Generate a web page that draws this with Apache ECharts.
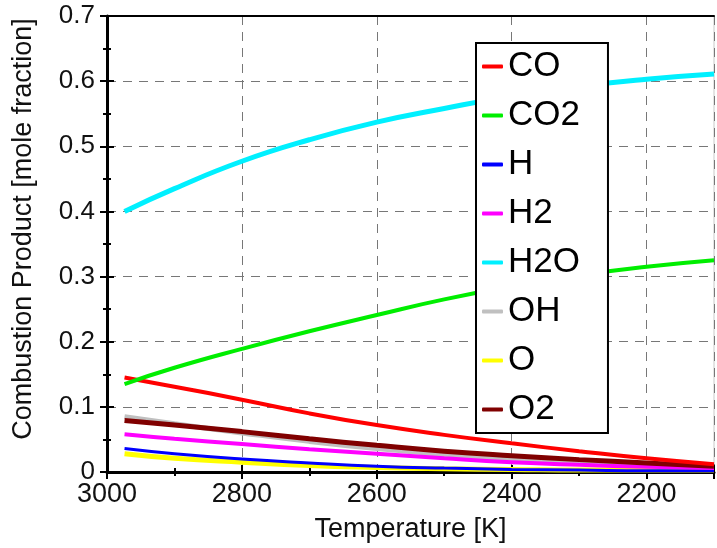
<!DOCTYPE html>
<html>
<head>
<meta charset="utf-8">
<script src="https://cdn.jsdelivr.net/npm/echarts@6/dist/echarts.min.js"></script>
<style>
  html, body { margin: 0; padding: 0; background: #fff; }
  #main { width: 717px; height: 548px; }
</style>
</head>
<body>
<div id="main"></div>
<script>
// temperatures (K), curves start just below 3000
var temps = [2974, 2900, 2800, 2700, 2600, 2500, 2400, 2300, 2200, 2100];

var CO  = [0.145, 0.131, 0.111, 0.090, 0.072, 0.057, 0.044, 0.032, 0.021, 0.012];
var CO2 = [0.135, 0.160, 0.189, 0.216, 0.241, 0.265, 0.285, 0.302, 0.315, 0.325];
var H   = [0.036, 0.028, 0.020, 0.014, 0.009, 0.006, 0.004, 0.003, 0.002, 0.002];
var H2  = [0.058, 0.051, 0.043, 0.035, 0.028, 0.021, 0.015, 0.011, 0.008, 0.006];
var H2O = [0.400, 0.435, 0.477, 0.510, 0.537, 0.558, 0.577, 0.592, 0.603, 0.611];
var OH  = [0.085, 0.074, 0.060, 0.047, 0.036, 0.027, 0.020, 0.014, 0.010, 0.007];
var O   = [0.028, 0.021, 0.015, 0.010, 0.007, 0.005, 0.004, 0.003, 0.003, 0.003];
var O2  = [0.079, 0.072, 0.062, 0.051, 0.041, 0.032, 0.025, 0.019, 0.014, 0.009];

var names  = ['CO', 'CO2', 'H', 'H2', 'H2O', 'OH', 'O', 'O2'];
var values = [CO, CO2, H, H2, H2O, OH, O, O2];
var colors = ['#ff0000', '#00ee00', '#0000ff', '#ff00ff', '#00f0ff', '#c0c0c0', '#ffff00', '#800000'];
var widths = [4, 4, 3, 4, 5, 5, 5, 5];

// x axis runs from 3000 K down to 2100 K; plotted as distance below 3000
// so the ticks land on 3000, 2800, ... (ticks count from min)
var T0 = 3000, T1 = 2100;

var chart = echarts.init(document.getElementById('main'));

function pairs(arr) {
    return temps.map(function (t, i) { return [T0 - t, arr[i]]; });
}

// draw order: grey/yellow underneath, the rest on top
var order = [5, 6, 2, 3, 7, 0, 1, 4];
var series = order.map(function (k) {
    return {
        name: names[k],
        type: 'line',
        smooth: true,
        showSymbol: false,
        data: pairs(values[k]),
        color: colors[k],
        lineStyle: { width: widths[k], color: colors[k] },
        z: 3
    };
});

var font = 'Liberation Sans, Arial, sans-serif';

var option = {
    animation: false,
    grid: {
        left: 107, right: 1, top: 16, bottom: 73,
        show: true, borderColor: '#c8c8c8', borderWidth: 1
    },
    legend: {
        data: names,
        orient: 'vertical',
        left: 476, top: 43,
        width: 131,
        padding: [6, 28, 6, 6],
        itemGap: 14,
        itemWidth: 21, itemHeight: 4,
        icon: 'roundRect',
        backgroundColor: '#fff',
        borderColor: '#000', borderWidth: 2,
        textStyle: { fontSize: 35, color: '#000', fontFamily: font },
        z: 10
    },
    xAxis: [{
        type: 'value',
        min: 0, max: T0 - T1, interval: 200,
        name: 'Temperature [K]', nameLocation: 'middle', nameGap: 44,
        nameTextStyle: { fontSize: 27, color: '#111', fontFamily: font },
        axisLine: { lineStyle: { color: '#000', width: 3 } },
        axisTick: { length: 7, lineStyle: { color: '#000', width: 2 } },
        minorTick: { show: true, splitNumber: 2, length: 4, lineStyle: { color: '#000', width: 2 } },
        axisLabel: {
            fontSize: 27, color: '#111', fontFamily: font, margin: 9,
            formatter: function (v) { return v >= T0 - T1 ? '' : String(T0 - v); }
        },
        splitLine: { show: true, lineStyle: { color: '#777', type: [9, 7], width: 1 } }
    }, {
        type: 'value',
        min: 0, max: T0 - T1, interval: 200,
        position: 'bottom',
        axisLine: { show: false },
        axisTick: { inside: true, length: 7, lineStyle: { color: '#000', width: 2 } },
        minorTick: { show: true, splitNumber: 2, length: 4, lineStyle: { color: '#000', width: 2 } },
        axisLabel: { show: false },
        splitLine: { show: false }
    }, {
        type: 'value',
        min: 0, max: T0 - T1,
        position: 'top',
        axisLine: { lineStyle: { color: '#000', width: 2 } },
        axisTick: { show: false },
        axisLabel: { show: false },
        splitLine: { show: false }
    }],
    yAxis: [{
        type: 'value', min: 0, max: 0.7, interval: 0.1,
        name: 'Combustion Product [mole fraction]', nameLocation: 'middle', nameGap: 70,
        nameTextStyle: { fontSize: 27, color: '#111', fontFamily: font, padding: [0, 0, 0, 30] },
        axisLine: { lineStyle: { color: '#000', width: 3 } },
        axisTick: { length: 7, lineStyle: { color: '#000', width: 2 } },
        minorTick: { show: true, splitNumber: 2, length: 4, lineStyle: { color: '#000', width: 2 } },
        axisLabel: {
            fontSize: 26, color: '#111', fontFamily: font, margin: 12,
            formatter: function (v) { return v === 0 ? '0' : v.toFixed(1); }
        },
        splitLine: { show: true, lineStyle: { color: '#777', type: [9, 7], width: 1 } }
    }, {
        type: 'value', min: 0, max: 0.7, interval: 0.1,
        position: 'left',
        axisLine: { show: false },
        axisTick: { inside: true, length: 7, lineStyle: { color: '#000', width: 2 } },
        minorTick: { show: true, splitNumber: 2, length: 4, lineStyle: { color: '#000', width: 2 } },
        axisLabel: { show: false },
        splitLine: { show: false }
    }],
    series: series
};

chart.setOption(option);
</script>
</body>
</html>
